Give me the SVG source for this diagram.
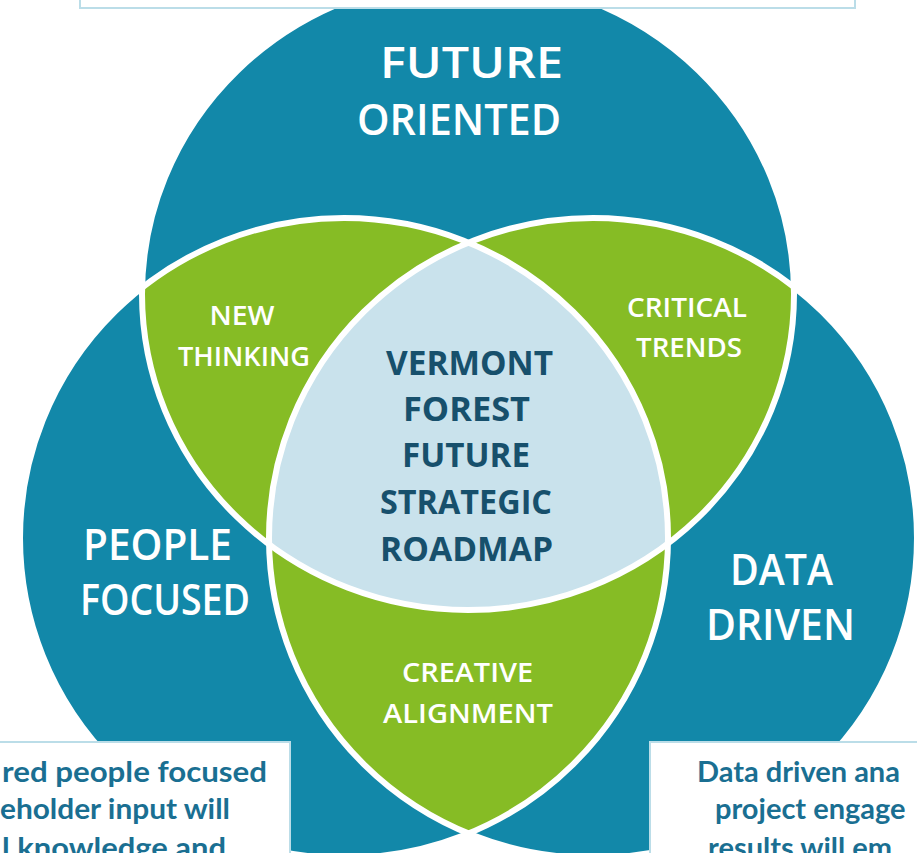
<svg xmlns="http://www.w3.org/2000/svg" width="917" height="853" viewBox="0 0 917 853">
<style>
.blue{fill:#1288A9}
.green{fill:#86BC25}
.core{fill:#C9E2EC}
.outline{fill:none;stroke:#FFFFFF;stroke-width:6}
.box{fill:#FFFFFF;stroke:#BBDDE8;stroke-width:2}
text{font-family:"Open Sans",Lato,"Liberation Sans",sans-serif;text-anchor:middle}
.big{fill:#FFFFFF;font-size:44px;font-weight:600}
.mid{fill:#FFFFFF;font-size:27px;font-weight:600}
.ctr{fill:#17506C;font-size:34px;font-weight:bold}
.note{fill:#1A6F92;font-size:29px;font-weight:bold;font-family:Lato,"Open Sans",sans-serif}
</style>
<defs>
<clipPath id="cT"><ellipse cx="468" cy="294" rx="326" ry="316"/></clipPath>
<clipPath id="cL"><ellipse cx="344" cy="538" rx="324" ry="320"/></clipPath>
<clipPath id="cR"><ellipse cx="593" cy="538" rx="324" ry="320"/></clipPath>
</defs>
<rect width="917" height="853" fill="#FFFFFF"/>
<g id="circle-future">
<ellipse class="blue" cx="468" cy="294" rx="326" ry="316"/>
</g>
<g id="circle-people">
<ellipse class="blue" cx="344" cy="538" rx="324" ry="320"/>
</g>
<g id="circle-data">
<ellipse class="blue" cx="593" cy="538" rx="324" ry="320"/>
</g>
<g id="lens-new-thinking">
<ellipse class="green" cx="344" cy="538" rx="324" ry="320" clip-path="url(#cT)"/>
</g>
<g id="lens-critical-trends">
<ellipse class="green" cx="468" cy="294" rx="326" ry="316" clip-path="url(#cR)"/>
</g>
<g id="lens-creative-alignment">
<ellipse class="green" cx="344" cy="538" rx="324" ry="320" clip-path="url(#cR)"/>
</g>
<g id="core-roadmap">
<g clip-path="url(#cR)"><ellipse class="core" cx="468" cy="294" rx="326" ry="316" clip-path="url(#cL)"/></g>
</g>
<g id="outlines">
<ellipse class="outline" cx="468" cy="294" rx="326" ry="316"/>
<ellipse class="outline" cx="344" cy="538" rx="324" ry="320"/>
<ellipse class="outline" cx="593" cy="538" rx="324" ry="320"/>
</g>
<g id="connectors"></g>
<g id="top-box"><rect class="box" x="80" y="-10" width="775" height="18"/></g>
<g id="note-people"><rect class="box" x="-10" y="742" width="300" height="130"/>
<text class="note" x="267" y="782" style="text-anchor:end" textLength="265" lengthAdjust="spacingAndGlyphs">red people focused</text>
<text class="note" x="230" y="819" style="text-anchor:end" textLength="230" lengthAdjust="spacingAndGlyphs">eholder input will</text>
<text class="note" x="226" y="858" style="text-anchor:end" textLength="224" lengthAdjust="spacingAndGlyphs">l knowledge and</text>
</g>
<g id="note-data"><rect class="box" x="650" y="742" width="290" height="130"/>
<text class="note" x="697" y="782" style="text-anchor:start">Data driven ana</text>
<text class="note" x="715" y="819" style="text-anchor:start">project engage</text>
<text class="note" x="708" y="858" style="text-anchor:start">results will em</text>
</g>
<g id="labels">
<text class="big" x="471.5" y="78" textLength="183" lengthAdjust="spacingAndGlyphs">FUTURE</text>
<text class="big" x="459" y="135" textLength="204" lengthAdjust="spacingAndGlyphs">ORIENTED</text>
<text class="mid" x="242" y="325" textLength="65" lengthAdjust="spacingAndGlyphs">NEW</text>
<text class="mid" x="244" y="366" textLength="132" lengthAdjust="spacingAndGlyphs">THINKING</text>
<text class="mid" x="687" y="317" textLength="120" lengthAdjust="spacingAndGlyphs">CRITICAL</text>
<text class="mid" x="689" y="357" textLength="106" lengthAdjust="spacingAndGlyphs">TRENDS</text>
<text class="ctr" x="469.5" y="375" textLength="167" lengthAdjust="spacingAndGlyphs">VERMONT</text>
<text class="ctr" x="466.5" y="421" textLength="127" lengthAdjust="spacingAndGlyphs">FOREST</text>
<text class="ctr" x="466" y="467" textLength="128" lengthAdjust="spacingAndGlyphs">FUTURE</text>
<text class="ctr" x="466" y="514" textLength="172" lengthAdjust="spacingAndGlyphs">STRATEGIC</text>
<text class="ctr" x="466.5" y="561" textLength="173" lengthAdjust="spacingAndGlyphs">ROADMAP</text>
<text class="big" x="157.5" y="560" textLength="149" lengthAdjust="spacingAndGlyphs">PEOPLE</text>
<text class="big" x="165" y="615" textLength="170" lengthAdjust="spacingAndGlyphs">FOCUSED</text>
<text class="big" x="781.5" y="585" textLength="103" lengthAdjust="spacingAndGlyphs">DATA</text>
<text class="big" x="780.5" y="640" textLength="149" lengthAdjust="spacingAndGlyphs">DRIVEN</text>
<text class="mid" x="467.5" y="682" textLength="131" lengthAdjust="spacingAndGlyphs">CREATIVE</text>
<text class="mid" x="468" y="723" textLength="170" lengthAdjust="spacingAndGlyphs">ALIGNMENT</text>
</g>
</svg>
